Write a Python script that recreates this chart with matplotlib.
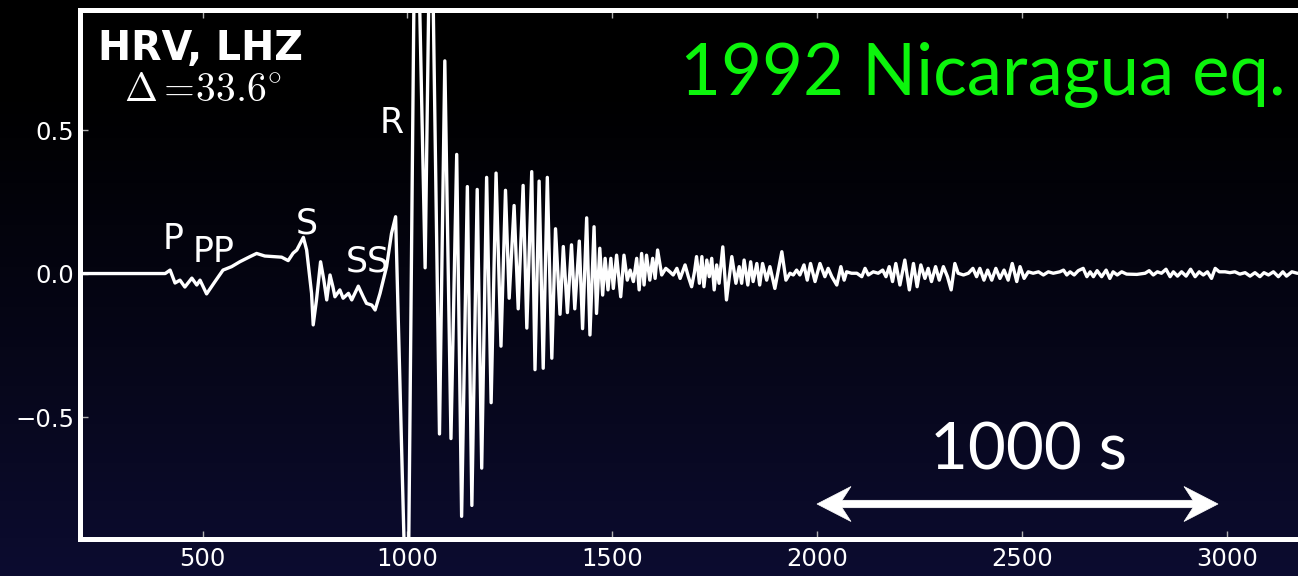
import numpy as np
import matplotlib
matplotlib.use("Agg")
import matplotlib.pyplot as plt
from matplotlib.patches import Polygon

# ---------------- data ----------------
# body waves (P, PP, S, SS)
t_body = [200, 409, 421, 433, 445, 457, 474, 486, 494, 510,
          530, 550, 571, 591, 616, 632, 652, 672, 693, 709,
          721, 730, 746, 754, 766, 770, 778, 788, 796, 803,
          811, 818, 823, 835, 843, 856, 864, 880, 892, 900,
          913, 921, 933, 949, 961, 971]
a_body = [0, 0, 0.012, -0.033, -0.023, -0.047, -0.016, -0.040, -0.023, -0.071,
          -0.029, 0.012, 0.024, 0.041, 0.059, 0.070, 0.061, 0.059, 0.057, 0.045,
          0.071, 0.082, 0.126, 0.082, -0.069, -0.179, -0.092, 0.041, -0.023, -0.092,
          -0.005, -0.046, -0.081, -0.057, -0.086, -0.069, -0.092, -0.044, -0.081, -0.104,
          -0.110, -0.127, -0.069, 0.024, 0.140, 0.198]

# surface waves (R)
t_surf = [1000, 1020, 1043, 1057, 1078, 1091, 1106, 1120, 1132, 1146,
          1157, 1170, 1181, 1193, 1204, 1216, 1228, 1239, 1248, 1260,
          1270, 1282, 1291, 1303, 1311, 1321, 1331, 1341, 1352, 1361,
          1372, 1380, 1390, 1400, 1408, 1419, 1427, 1437]
a_surf = [-1.4, 1.6, 0.02, 1.5, -0.559, 0.741, -0.575, 0.415, -0.846, 0.303,
          -0.808, 0.293, -0.678, 0.335, -0.45, 0.35, -0.253, 0.29, -0.086, 0.237,
          -0.123, 0.307, -0.19, 0.355, -0.335, 0.322, -0.33, 0.335, -0.295, 0.156,
          -0.142, 0.094, -0.136, 0.10, -0.123, 0.113, -0.192, 0.194]

# coda, part 1
t_coda1 = [1445, 1455, 1461, 1469, 1476, 1482, 1489, 1496, 1502, 1510,
           1520, 1528, 1536, 1543, 1551, 1559, 1565, 1571, 1577, 1583,
           1591, 1598, 1604, 1610, 1620, 1630, 1640, 1648, 1657, 1665,
           1677, 1685, 1693, 1700, 1705, 1712, 1718, 1723, 1730, 1736,
           1742, 1748, 1754, 1760, 1769, 1778, 1791, 1801, 1809, 1815,
           1821, 1830, 1837, 1843, 1852, 1859, 1866, 1876, 1884, 1896,
           1913, 1923, 1933, 1941, 1949, 1957, 1967, 1975, 1983, 1994,
           2006]
a_coda1 = [-0.214, 0.163, -0.139, 0.088, -0.075, 0.053, -0.057, 0.053, -0.052, 0.064,
           -0.081, 0.064, -0.023, 0.012, -0.028, 0.053, -0.057, 0.070, -0.040, 0.064,
           -0.023, 0.053, -0.017, 0.082, -0.005, 0.018, 0.006, -0.005, 0.018, -0.017,
           0.030, -0.011, -0.046, 0.006, 0.059, -0.034, 0.059, -0.046, 0.047, -0.011,
           0.053, -0.057, 0.030, -0.034, 0.093, -0.092, 0.059, -0.034, 0.024, -0.034,
           0.047, -0.040, 0.041, -0.028, 0.035, -0.040, 0.035, -0.023, 0.024, -0.052,
           0.076, -0.023, 0.001, -0.005, 0.012, -0.005, 0.030, -0.023, 0.035, -0.028,
           0.035]

# coda, part 2
t_coda2 = [2018, 2026, 2035, 2047, 2057, 2065, 2071, 2083, 2096, 2108,
           2116, 2124, 2136, 2148, 2159, 2167, 2175, 2183, 2191, 2201,
           2213, 2224, 2234, 2243, 2252, 2262, 2270, 2278, 2288, 2297,
           2307, 2317, 2326, 2335, 2343, 2356, 2368, 2379, 2388, 2396,
           2406, 2415, 2425, 2435, 2445, 2455, 2465, 2475, 2486, 2494,
           2504, 2514, 2526, 2539, 2551, 2563, 2575, 2591]
a_coda2 = [-0.011, 0.018, -0.011, -0.040, 0.024, -0.023, 0.006, 0.001, 0.001, -0.011,
           0.018, -0.005, 0.006, 0.001, 0.012, -0.011, 0.024, -0.028, 0.035, -0.040,
           0.047, -0.057, 0.035, -0.046, 0.030, -0.017, 0.018, -0.028, 0.024, -0.023,
           0.024, -0.011, -0.057, 0.035, 0.001, -0.005, 0.001, 0.018, -0.011, 0.018,
           -0.023, 0.012, -0.023, 0.018, -0.017, 0.012, -0.023, 0.035, -0.028, 0.024,
           -0.017, 0.006, 0.001, 0.006, -0.005, 0.006, 0.001, 0.006]

# coda, part 3
t_coda3 = [2600, 2608, 2616, 2626, 2636, 2648, 2657, 2665, 2673, 2682,
           2693, 2704, 2713, 2721, 2731, 2742, 2754, 2779, 2799, 2809,
           2819, 2829, 2839, 2850, 2860, 2868, 2878, 2888, 2899, 2910,
           2921, 2931, 2941, 2951, 2961, 2970, 2980, 2994, 3006, 3018,
           3030, 3043, 3055, 3067, 3079, 3089, 3100, 3112, 3124, 3135,
           3144, 3157, 3170, 3200]
a_coda3 = [0.012, -0.005, 0.006, -0.005, 0.010, 0.018, -0.011, 0.006, -0.011, 0.010,
           -0.011, 0.012, -0.017, 0.006, -0.005, 0.006, -0.002, -0.003, 0.001, 0.010,
           -0.005, 0.006, 0.001, 0.015, -0.011, 0.006, -0.009, 0.006, -0.009, 0.015,
           -0.011, 0.006, -0.005, 0.006, -0.017, 0.018, 0.006, 0.006, 0.003, 0.006,
           -0.002, 0.003, -0.009, 0.003, -0.011, 0.003, -0.005, 0.006, -0.011, 0.006,
           -0.009, 0.006, 0.001, 0.0]

phase_names = ["P", "PP", "S", "SS", "R"]
phase_t = [428, 528, 754, 904, 961]
phase_a = [0.085, 0.041, 0.140, 0.006, 0.490]

xticks = [500, 1000, 1500, 2000, 2500, 3000]
yticks = [-0.5, 0.0, 0.5]

station_label = "HRV, LHZ"
distance_label = r"$\Delta=\!33.6^{\circ}$"
title_label = "1992 Nicaragua eq."
scale_label = "1000 s"

# ---------------- figure ----------------
W, H = 1298, 576
plt.rcParams["mathtext.fontset"] = "cm"
fig = plt.figure(figsize=(W / 100, H / 100), dpi=100)

# background gradient (black -> dark navy)
bg = fig.add_axes([0, 0, 1, 1], zorder=-10)
yy = np.linspace(0, 1, 300)[:, None]          # 0 top, 1 bottom
g = np.clip((yy - 0.15) / 0.85, 0, 1) ** 1.1
bottom_col = np.array([12, 12, 48]) / 255.0
img = g[:, :, None] * bottom_col[None, None, :] * np.ones((1, 2, 1))
bg.imshow(img, aspect="auto", extent=[0, 1, 0, 1], origin="upper")
bg.set_axis_off()

def px2fig(x, y):
    return x / W, 1 - y / H

left_px, right_px, top_px, bot_px = 79.5, 1309.5, 9.5, 539.0
ax = fig.add_axes([left_px / W, 1 - bot_px / H, (right_px - left_px) / W, (bot_px - top_px) / H])
ax.patch.set_alpha(0)

t = np.concatenate([t_body, t_surf, t_coda1, t_coda2, t_coda3])
a = np.concatenate([a_body, a_surf, a_coda1, a_coda2, a_coda3])
ax.plot(t, a, color="white", lw=2.4, solid_joinstyle="round", zorder=3)

ax.set_xlim(200, 3200)
ax.set_ylim(-0.925, 0.92)
ax.set_xticks(xticks)
ax.set_yticks(yticks)
ax.set_yticklabels(["\u22120.5", "0.0", "0.5"])
for s in ax.spines.values():
    s.set_color("white")
    s.set_linewidth(3.6)
ax.tick_params(axis="both", direction="in", length=6, width=1, color="#b0b0b0",
               labelcolor="white", labelsize=17.5, top=True, right=True)
ax.tick_params(axis="x", pad=5.5)
ax.tick_params(axis="y", pad=4)

for name, tx, ay in zip(phase_names, phase_t, phase_a):
    ax.text(tx, ay, name, color="white", fontsize=25, ha="center", va="baseline",
            family="DejaVu Sans", zorder=4)

fig.text(*px2fig(200, 60), station_label, color="white", fontsize=28.5, fontweight="bold",
         ha="center", va="baseline", family="DejaVu Sans")
fig.text(*px2fig(203, 101), distance_label, color="white", fontsize=28.5,
         ha="center", va="baseline")

title = fig.text(*px2fig(983, 95), title_label, color="#0cf50c", fontsize=50,
                 ha="center", va="baseline", family="Lato")
scale = fig.text(*px2fig(1028, 470), scale_label, color="white", fontsize=50,
                 ha="center", va="baseline", family="Lato")

fig.canvas.draw()
r = fig.canvas.get_renderer()
for txt, target in [(title, 605), (scale, 197)]:
    w = txt.get_window_extent(r).width
    txt.set_fontsize(txt.get_fontsize() * target / w)

# double-headed scale arrow (pixel geometry)
arrow_px = [(817, 504), (851, 486.5), (842, 500.3), (1193, 500.3), (1184, 486.5),
            (1218, 504), (1184, 521.5), (1193, 507.7), (842, 507.7), (851, 521.5)]
fig.patches.append(Polygon([px2fig(x, y) for x, y in arrow_px], closed=True,
                           transform=fig.transFigure, facecolor="white",
                           edgecolor="white", lw=0.5, zorder=5))

fig.savefig("out.png", dpi=100)
